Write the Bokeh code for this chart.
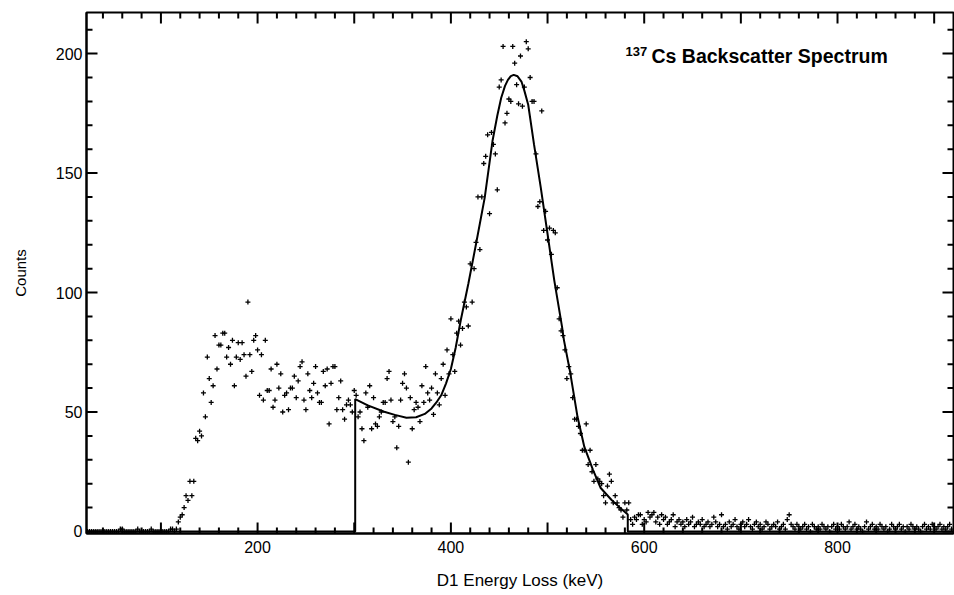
from bokeh.plotting import figure
from bokeh.models import FixedTicker, Label, Range1d
from bokeh.embed import file_html
from bokeh.resources import INLINE

# ---- measured spectrum: counts in 2 keV bins, grouped by the energy of each group's first bin
low_start = 24
low_counts = [0, 0, 0, 0, 0, 0, 0, 0, 0, 0, 0, 0, 0, 0, 0, 0, 0, 1, 1, 0,
              0, 0, 0, 0, 0, 0, 1, 0, 0, 0, 0, 0, 0, 1, 0, 0, 0, 0, 0, 0,
              0, 0, 0, 1, 1, 0, 1]
rise_start = 118
rise_counts = [4, 6, 7, 10, 15, 13, 21, 15, 21, 39, 38, 42, 40, 58, 48, 73, 64, 54, 61, 82,
               68, 78, 78, 83, 83, 73, 77, 70, 80, 61, 73, 79, 72, 79, 74, 65, 96, 74, 67, 80,
               82, 76, 57, 74, 55, 80, 59, 59]
plateau_start = 214
plateau_counts = [68, 52, 55, 70, 60, 66, 50, 57, 58, 51, 60, 60, 65, 56, 63, 69, 71, 55, 51, 66,
                  59, 56, 62, 69, 58, 54, 54, 67, 61, 68, 45, 62, 69, 69, 51, 56, 63, 51, 47, 53,
                  55, 53, 50, 59, 57, 48, 50, 43, 38, 58, 52, 61, 43, 56, 45, 44, 48, 50, 54, 54,
                  64, 67, 55, 46, 48, 35, 44, 55, 62, 66, 60, 29, 56, 43, 51, 54, 52, 46, 61, 54,
                  69, 58, 55]
peak_start = 380
peak_counts = [60, 49, 66, 58, 53, 64, 70, 57, 76, 66, 89, 74, 67, 83, 88, 78, 85, 96, 94, 86,
               112, 96, 110, 121, 140, 118, 140, 154, 157, 166, 133, 167, 162, 158, 143, 186, 189, 203, 171, 175,
               181, 180, 203, 196, 187, 179, 199, 178, 186, 205, 202, 190, 180, 180, 158, 136, 138, 176, 126, 134,
               122, 127, 116, 126, 125, 102, 89, 84, 82, 76, 64, 69, 66, 56, 47, 47, 44, 41, 34, 34,
               45, 28, 34, 25, 21, 28, 22, 21, 20, 15, 12, 19, 24, 21, 12, 15, 12, 10, 9, 6,
               12, 9, 12, 5]
tail_start = 588
tail_counts = [3, 6, 5, 7, 7, 3, 5, 4, 8, 6, 7, 8, 4, 6, 3, 7, 5, 6, 3, 4,
               5, 7, 2, 4, 5, 3, 4, 2, 5, 3, 4, 6, 2, 3, 4, 3, 5, 2, 3, 4,
               2, 3, 6, 4, 2, 3, 7, 2, 3, 1, 4, 2, 3, 5, 2, 1, 3, 4, 2, 3,
               5, 2, 1, 3, 4, 2, 3, 1, 2, 4, 3, 1, 2, 3, 2, 4, 1, 2, 3, 1,
               5, 7, 3, 2, 1, 3, 2, 1, 2, 3, 1, 2, 0, 3, 2, 1, 2, 1, 3, 2,
               1, 2, 0, 2, 3, 1, 2, 1, 3, 2, 1, 2, 4, 1, 2, 3, 1, 2, 1, 0,
               2, 4, 1, 2, 3, 1, 2, 1, 3, 2, 1, 2, 0, 1, 3, 2, 1, 2, 3, 1,
               2, 0, 2, 1, 3, 2, 1, 2, 1, 0, 2, 3, 1, 2, 1, 3, 2, 1, 2, 3,
               1, 2, 1, 2, 3, 1]

# ---- fitted curve (Gaussian peak on background)
fit_energy = [23, 301, 301, 314, 331, 342, 354, 364, 373, 380, 385, 390, 395, 400, 405, 410, 418, 426,
              435, 443, 448, 452, 456, 459, 462, 465, 469, 473, 476, 480, 486, 493, 500, 507, 515, 517,
              523, 531, 538, 547, 555, 566, 574, 583, 583, 920]
fit_counts = [0, 0, 55.4, 52.8, 50.1, 48.8, 47.6, 47.8, 49.2, 51.5, 54, 57, 62, 68, 77, 88, 103.6, 120.3,
              139.7, 163.3, 174, 181.4, 186.5, 189, 190.6, 191.1, 190.5, 188.3, 184.5, 178.6, 162, 143.9, 124.5, 105, 85.6, 80,
              67.5, 48, 35.5, 25.8, 18.2, 13.3, 10.3, 7.1, 0, 0]

x_major = [0, 100, 200, 300, 400, 500, 600, 700, 800, 900]
x_labelled = [200, 400, 600, 800]
x_minor = list(range(0, 1000, 20))
y_major = [0, 50, 100, 150, 200]
y_minor = list(range(0, 220, 10))

title_sup = "137"
title_main = "Cs Backscatter Spectrum"
x_title = "D1 Energy Loss (keV)"
y_title = "Counts"

energy, counts = [], []
for start, vals in [(low_start, low_counts), (rise_start, rise_counts), (plateau_start, plateau_counts),
                    (peak_start, peak_counts), (tail_start, tail_counts)]:
    for i, v in enumerate(vals):
        energy.append(start + 2 * i)
        counts.append(v)

FONT = "Liberation Sans"
X0, X1 = 23, 920
Y0, Y1 = -0.84, 217.2
W, H = 954, 595
BL, BR, BT, BB = 86, 1, 12, 62

p = figure(width=W, height=H, x_range=Range1d(X0, X1), y_range=Range1d(Y0, Y1),
           output_backend="svg", toolbar_location=None,
           min_border_left=BL, min_border_right=BR, min_border_top=BT, min_border_bottom=BB,
           x_axis_label=x_title, y_axis_label=y_title)
p.grid.visible = False
p.background_fill_color = "white"
p.border_fill_color = "white"
p.outline_line_color = "black"
p.outline_line_width = 2

xa = p.xaxis[0]
ya = p.yaxis[0]
xa.ticker = FixedTicker(ticks=x_major, minor_ticks=[])
ya.ticker = FixedTicker(ticks=y_major, minor_ticks=[])
for ax in (xa, ya):
    ax.axis_line_width = 2
    ax.axis_line_color = "black"
    ax.major_tick_in = 0
    ax.major_tick_out = 0
    ax.minor_tick_in = 0
    ax.minor_tick_out = 0
    ax.major_label_text_font = FONT
    ax.major_label_text_font_size = "16px"
    ax.major_label_text_color = "black"
    ax.axis_label_text_font = FONT
    ax.axis_label_text_font_style = "normal"
    ax.axis_label_text_color = "black"
xa.major_label_overrides = {t: ("" if t not in x_labelled else str(t)) for t in x_major}
xa.major_label_standoff = 7
xa.axis_label_text_font_size = "17px"
xa.axis_label_standoff = 15
ya.major_label_standoff = 4
ya.axis_label_text_font_size = "15px"
ya.axis_label_standoff = 24

# ---- inward tick marks on all four sides, lengths converted from pixels to data units
fw = W - BL - BR
fh = H - BT - BB
ux = (X1 - X0) / fw
uy = (Y1 - Y0) / fh
MAJ, MIN = 11, 6


def xticks(ticks, length):
    ts = [t for t in ticks if X0 < t < X1]
    xs = ts + ts
    y0 = [Y0] * len(ts) + [Y1] * len(ts)
    y1 = [Y0 + length * uy] * len(ts) + [Y1 - length * uy] * len(ts)
    return xs, y0, y1


def yticks(ticks, length):
    ts = [t for t in ticks if Y0 < t < Y1]
    ys = ts + ts
    x0 = [X0] * len(ts) + [X1] * len(ts)
    x1 = [X0 + length * ux] * len(ts) + [X1 - length * ux] * len(ts)
    return ys, x0, x1


xs, a0, a1 = xticks(x_major, MAJ)
p.segment(x0=xs, x1=xs, y0=a0, y1=a1, line_width=2, color="black")
xs, a0, a1 = xticks([t for t in x_minor if t not in x_major], MIN)
p.segment(x0=xs, x1=xs, y0=a0, y1=a1, line_width=2, color="black")
ys, b0, b1 = yticks(y_major, MAJ)
p.segment(x0=b0, x1=b1, y0=ys, y1=ys, line_width=2, color="black")
ys, b0, b1 = yticks([t for t in y_minor if t not in y_major], MIN)
p.segment(x0=b0, x1=b1, y0=ys, y1=ys, line_width=2, color="black")

p.scatter(energy, counts, marker="cross", size=5, line_width=1.3, color="black")
p.line(fit_energy, fit_counts, line_width=2, color="black")

p.add_layout(Label(x=580.6, y=198.8, text=title_sup, text_font=FONT, text_font_size="13px",
                   text_font_style="bold", text_baseline="bottom", text_color="black"))
p.add_layout(Label(x=607.5, y=194.4, text=title_main, text_font=FONT, text_font_size="19.5px",
                   text_font_style="bold", text_baseline="bottom", text_color="black"))

open("out.html", "w").write(file_html(p, INLINE))
